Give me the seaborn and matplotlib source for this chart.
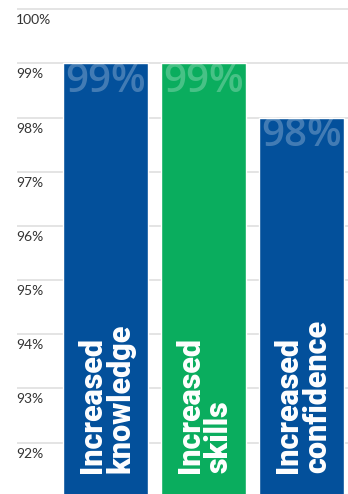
import matplotlib
matplotlib.use("Agg")
import matplotlib.pyplot as plt
import matplotlib.transforms as mtransforms
import seaborn as sns
import pandas as pd

# Survey outcomes
categories = ["Increased\nknowledge", "Increased\nskills", "Increased\nconfidence"]
values = [99, 99, 98]
value_labels = ["99%", "99%", "98%"]
bar_colors = ["#03509b", "#0aad5e", "#03509b"]
tick_values = [92, 93, 94, 95, 96, 97, 98, 99, 100]
tick_labels = ["92%", "93%", "94%", "95%", "96%", "97%", "98%", "99%", "100%"]

sns.set_theme(style="white")
plt.rcParams["font.family"] = ["Lato", "DejaVu Sans"]

df = pd.DataFrame({"category": categories, "value": values})

fig = plt.figure(figsize=(3.48, 4.94), dpi=100)
ax = fig.add_axes([17 / 348, 0.0, 1 - 17 / 348, 1.0])

sns.barplot(data=df, x="category", y="value", hue="category",
            palette=bar_colors, width=0.867, legend=False, ax=ax,
            saturation=1, zorder=2)

ax.set_ylim(91.05, 100.17)
ax.set_xlim(-0.903, 2.474)

for t in tick_values:
    ax.axhline(t, color="#e2e2e2", lw=1.3, zorder=1)

for s in ax.spines.values():
    s.set_visible(False)
ax.set_xticks([])
ax.set_yticks([])
ax.set_xlabel("")
ax.set_ylabel("")

# y labels sit just below their gridlines
offset = mtransforms.ScaledTranslation(0, -11 / 100, fig.dpi_scale_trans)
ytrans = mtransforms.blended_transform_factory(fig.transFigure, ax.transData) + offset
for t, lab in zip(tick_values, tick_labels):
    fig.text(16 / 348, t, lab, transform=ytrans, ha="left", va="center",
             fontsize=10, color="#333333")

# value labels at the top of each bar
for i, (v, lab) in enumerate(zip(values, value_labels)):
    ax.text(i, v + 0.03, lab, ha="center", va="top", fontsize=29,
            family=["Open Sans", "DejaVu Sans"], fontweight="semibold",
            color="white", alpha=0.25, zorder=3, clip_on=True)

# category names written up each bar
btrans = mtransforms.blended_transform_factory(ax.transData, ax.transAxes)
for i, cat in enumerate(categories):
    ax.text(i + 0.01, 21 / 494, cat, transform=btrans, rotation=90,
            ha="center", va="bottom", multialignment="left",
            family=["Roboto", "DejaVu Sans"], fontsize=22, fontweight="black",
            color="white", linespacing=0.95, zorder=3)

fig.savefig("out.png", dpi=100)
